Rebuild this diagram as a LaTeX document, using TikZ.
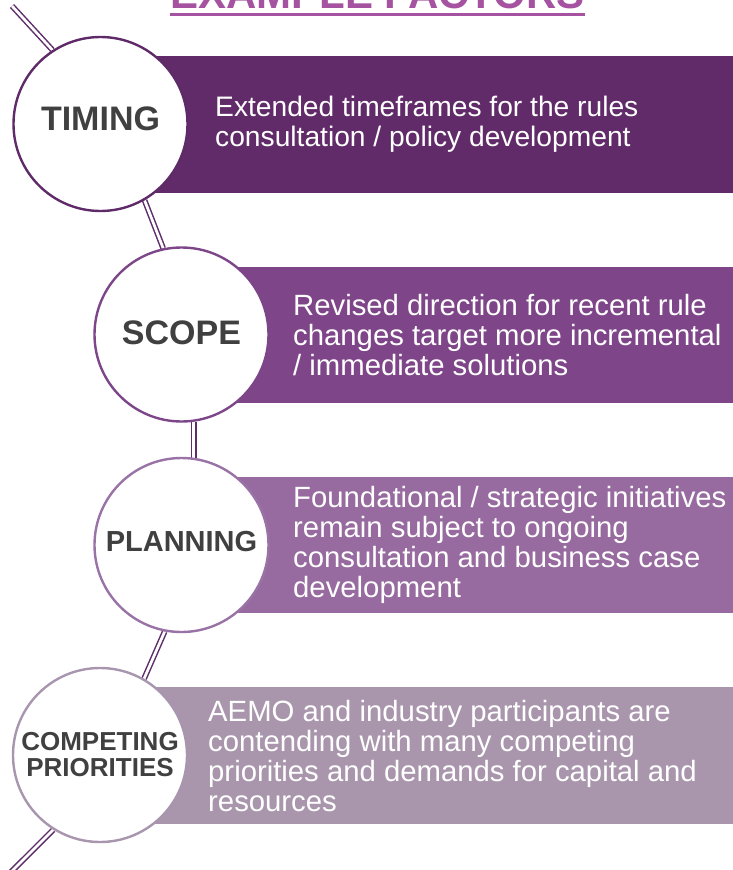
\documentclass[tikz,border=0pt]{standalone}
\usepackage{fontspec}
\setmainfont{Liberation Sans}
\usetikzlibrary{backgrounds,calc}

\definecolor{titlecol}{HTML}{A553A0}
\definecolor{bandA}{HTML}{612A69}
\definecolor{bandB}{HTML}{7E4589}
\definecolor{bandC}{HTML}{976B9F}
\definecolor{bandD}{HTML}{A996AD}
\definecolor{ringA}{HTML}{5F2A68}
\definecolor{ringB}{HTML}{7D4689}
\definecolor{ringC}{HTML}{9A73A6}
\definecolor{ringD}{HTML}{A895AE}
\definecolor{linkcol}{HTML}{5E2D6B}
\definecolor{labelcol}{HTML}{404040}

\tikzset{
  ring/.style={circle, draw=#1, line width=2.4pt, fill=white,
               minimum size=174pt, inner sep=0pt},
  lbl/.style={text=labelcol, font=\bfseries\fontsize{#1}{#1}\selectfont,
              align=center, inner sep=0pt},
  bandtext/.style={text=white, font=\fontsize{#1}{30}\selectfont,
                   align=left, anchor=west, inner sep=0pt},
  bandtext/.default=29.3,
  link/.style={draw=linkcol, line width=1.5pt, double=white,
               double distance=2.7pt},
  heading/.style={text=titlecol, font=\bfseries\fontsize{42}{42}\selectfont,
                  inner sep=0pt, anchor=base}
}

\begin{document}
\begin{tikzpicture}[x=1pt, y=-1pt]
\useasboundingbox (0,0) rectangle (733,870);
\clip (0,0) rectangle (733,870);

% heading with its underline
\node[heading] (title) at (377.5,8.5) {EXAMPLE FACTORS};
\fill[titlecol] ($(title.base west)+(0,4.5)$) rectangle ($(title.base east)+(0,7.5)$);

% the four factor circles
\node[ring=ringA] (c1) at (100.5,124) {};
\node[ring=ringB] (c2) at (181.5,334.5) {};
\node[ring=ringC] (c3) at (181.5,545) {};
\node[ring=ringD] (c4) at (100,755) {};

\node[lbl=34] (l1) at (100.5,119) {TIMING};
\node[lbl=34] (l2) at (181.5,333) {SCOPE};
\node[lbl=29] (l3) at (181.5,542) {PLANNING};
\node[lbl=26, execute at begin node={\setlength{\baselineskip}{26pt}}] (l4) at (100,755) {COMPETING\\PRIORITIES};

\coordinate (topend) at (12,6);
\coordinate (botend) at (10,873);

\begin{scope}[on background layer]
  % coloured bands behind the circles
  \fill[bandA] (100.5,56) rectangle (733,193);
  \fill[bandB] (181.5,267) rectangle (733,403);
  \fill[bandC] (181.5,477) rectangle (733,613);
  \fill[bandD] (100,687) rectangle (733,824);
  % double-line thread joining the circles
  \draw[link] (topend) -- (c1.123);
  \draw[link] (c1.-60) -- (c2.102);
  \draw[link] (c2.-82) -- (c3.82);
  \draw[link] (c3.-101.5) -- (c4.60);
  \draw[link] (c4.-122) -- (botend);
\end{scope}

% band descriptions
\node[bandtext=28.2] (t1) at (215,124.5) {Extended timeframes for the rules\\consultation / policy development};
\node[bandtext] (t2) at (293,335) {Revised direction for recent rule\\changes target more incremental\\/ immediate solutions};
\node[bandtext] (t3) at (293,545) {Foundational / strategic initiatives\\remain subject to ongoing\\consultation and business case\\development};
\node[bandtext] (t4) at (208,756) {AEMO and industry participants are\\contending with many competing\\priorities and demands for capital and\\resources};
\end{tikzpicture}
\end{document}
